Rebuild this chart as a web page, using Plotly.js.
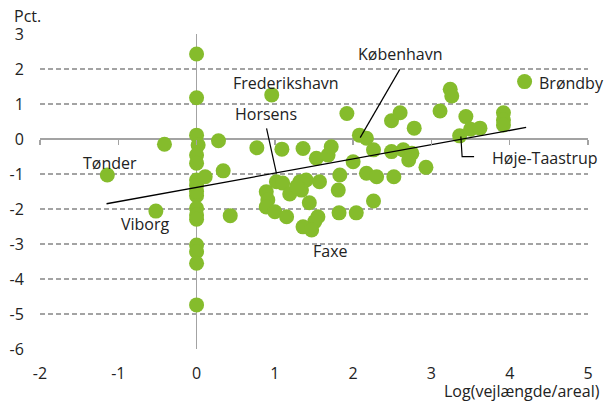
<!DOCTYPE html>
<html>
<head>
<meta charset="utf-8">
<script src="https://cdn.plot.ly/plotly-3.0.1.min.js"></script>
<style>html,body{margin:0;padding:0;background:#fff;}#chart{width:607px;height:403px;}</style>
</head>
<body>
<div id="chart"></div>
<script>
// Scatter points: x = Log(vejlængde/areal), y = Pct.
const xVals = [
  0, 0, 0, 0.02, 0, 0, 0, 0, 0, 0, 0, 0, 0, 0, 0, 0, 0,
  -1.14, -0.41, -0.52, 0.28, 0.34, 0.11, 0.43, 0.77, 1.09, 1.36, 0.96,
  1.02, 1.10, 0.89, 0.91, 0.89, 1.00, 1.15, 1.19, 1.32, 1.40, 1.34, 1.28, 1.57, 1.44, 1.55, 1.51, 1.36, 1.47,
  1.53, 1.68, 1.72, 1.83, 1.81, 1.82, 2.04, 2.00, 2.17, 2.30, 2.26, 2.52, 1.92, 2.08, 2.17, 2.26, 2.49, 2.64, 2.75, 2.71, 2.93, 2.49, 2.60, 2.78,
  3.11, 3.24, 3.26, 3.44, 3.36, 3.50, 3.62, 3.92, 3.92, 3.92, 4.19
];
const yVals = [
  2.43, 1.18, 0.11, -0.17, -0.46, -0.69, -1.17, -1.33, -1.62, -1.98, -2.17, -2.29, -3.03, -3.22, -3.55, -4.74, -1.50,
  -1.03, -0.15, -2.06, -0.05, -0.91, -1.08, -2.19, -0.25, -0.29, -0.27, 1.26,
  -1.22, -1.26, -1.51, -1.74, -1.94, -2.08, -2.22, -1.57, -1.22, -1.17, -1.46, -1.36, -1.22, -1.82, -2.22, -2.36, -2.51, -2.60,
  -0.55, -0.46, -0.22, -1.03, -1.46, -2.11, -2.11, -0.65, -0.98, -1.08, -1.77, -1.08, 0.73, 0.11, 0.02, -0.31, -0.36, -0.31, -0.41, -0.60, -0.81, 0.52, 0.75, 0.31,
  0.80, 1.42, 1.23, 0.64, 0.09, 0.28, 0.31, 0.75, 0.54, 0.40, 1.64
];
// Trend line end points
const trendX = [-1.15, 4.21];
const trendY = [-1.85, 0.33];
// Axis ticks
const xTicks = [-2, -1, 0, 1, 2, 3, 4, 5];
const xTickText = ["-2", "-1", "0", "1", "2", "3", "4", "5"];
const yTicks = [-6, -5, -4, -3, -2, -1, 0, 1, 2, 3];
const yTickText = ["-6", "-5", "-4", "-3", "-2", "-1", "0", "1", "2", "3"];
// Labels
const labelTexts = ["Frederikshavn", "Horsens", "København", "Brøndby", "Tønder", "Viborg", "Faxe", "Høje-Taastrup"];
const labelX = [1.137, 0.889, 2.60, 4.346, -1.107, -0.648, 1.715, 3.746];
const labelY = [1.59, 0.706, 2.42, 1.59, -0.677, -2.437, -3.20, -0.543];
const labelAnchor = ["center", "center", "center", "left", "center", "center", "center", "left"];
// Connector lines (label pointers)
const connX = [[0.894, 1.02], [2.596, 2.09], [3.376, 3.392, 3.545]];
const connY = [[0.306, -0.98], [1.99, 0.04], [0.07, -0.506, -0.506]];

const font = {family: "Open Sans, sans-serif", size: 16, color: "#222"};
const green = "#85bc2c";
const grid = "#a3a3a3";

const traces = [
  {x: xVals, y: yVals, type: "scatter", mode: "markers",
   marker: {color: green, size: 15, line: {width: 0}}, hoverinfo: "skip", cliponaxis: false},
  {x: trendX, y: trendY, type: "scatter", mode: "lines",
   line: {color: "#000", width: 1.3}, hoverinfo: "skip"}
];
connX.forEach((cx, i) => traces.push({x: cx, y: connY[i], type: "scatter", mode: "lines",
  line: {color: "#000", width: 1.2}, hoverinfo: "skip"}));
// invisible trace on xaxis2 for ticks on the zero line
traces.push({x: [xTicks[0]], y: [0], xaxis: "x2", yaxis: "y", mode: "markers",
  marker: {opacity: 0}, hoverinfo: "skip", showlegend: false});

const annotations = labelTexts.map((t, i) => ({
  text: t, x: labelX[i], y: labelY[i], xref: "x", yref: "y",
  xanchor: labelAnchor[i], yanchor: "middle", showarrow: false, font: font
}));
annotations.push({text: "Pct.", xref: "paper", yref: "paper", x: -0.052, y: 1.058,
  xanchor: "left", yanchor: "middle", showarrow: false, font: font});
annotations.push({text: "Log(vejlængde/areal)", xref: "paper", yref: "paper", x: 1.026, y: -0.132,
  xanchor: "right", yanchor: "middle", showarrow: false, font: font});

const layout = {
  width: 607, height: 403,
  margin: {l: 40, r: 19, t: 34, b: 54},
  paper_bgcolor: "#fff", plot_bgcolor: "#fff",
  showlegend: false,
  font: font,
  xaxis: {range: [-2, 5], tickvals: xTicks, ticktext: xTickText, showgrid: false, zeroline: true,
    zerolinecolor: grid, zerolinewidth: 1.5, showline: false,
    ticks: "outside", ticklen: 10, tickcolor: "rgba(0,0,0,0)", tickfont: font, fixedrange: true},
  xaxis2: {range: [-2, 5], tickvals: xTicks, overlaying: "x", anchor: "free", position: 6/9,
    showgrid: false, zeroline: false, showline: false, showticklabels: false,
    ticks: "outside", ticklen: 5, tickcolor: grid, tickwidth: 1.5, side: "bottom"},
  yaxis: {range: [-6, 3], tickvals: yTicks, ticktext: yTickText, showgrid: true, gridcolor: grid, gridwidth: 1.3,
    griddash: "5px,3px", zeroline: true, zerolinecolor: grid, zerolinewidth: 1.5,
    showline: false, ticks: "outside", ticklen: 12, tickcolor: "rgba(0,0,0,0)", tickfont: font, fixedrange: true},
  annotations: annotations
};

Plotly.newPlot("chart", traces, layout, {staticPlot: true, displayModeBar: false});
</script>
</body>
</html>
